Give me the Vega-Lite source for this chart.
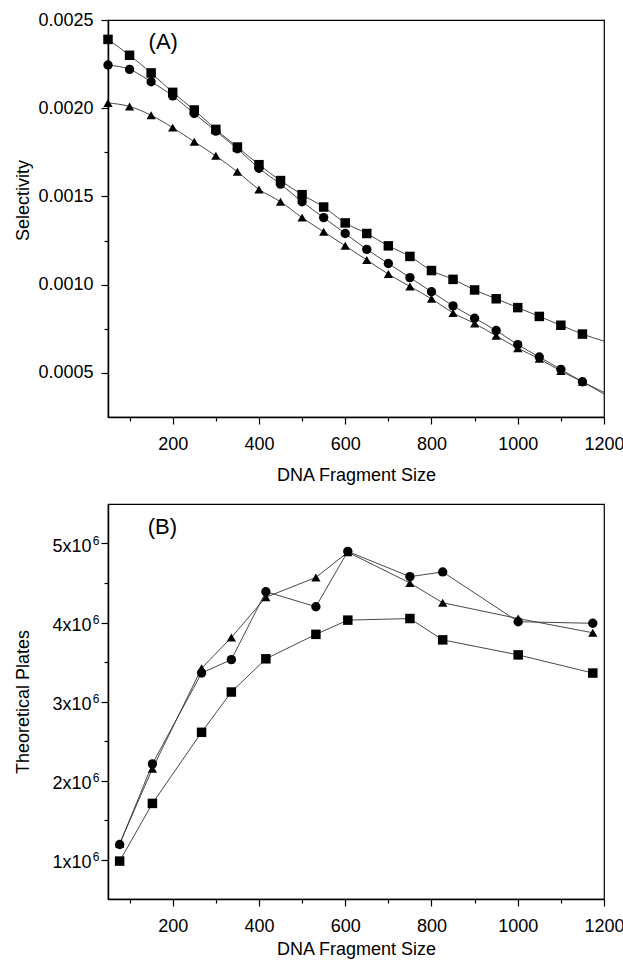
{
  "$schema": "https://vega.github.io/schema/vega-lite/v6.json",
  "padding": {"left": 13, "top": 10, "right": 0, "bottom": 0},
  "config": {
    "font": "Liberation Sans",
    "view": {"stroke": "black", "strokeWidth": 1.2},
    "axis": {"grid": false, "domainColor": "black", "domainWidth": 1.5, "tickColor": "black", "tickWidth": 1.2, "labelColor": "black", "titleColor": "black", "labelFont": "Liberation Sans", "titleFont": "Liberation Sans", "labelFontSize": 18, "titleFontSize": 18, "titleFontWeight": "normal", "labelOverlap": false},
    "concat": {"spacing": 18}
  },
  "datasets": {
    "A": [
      {"size": 50, "sel": 0.00239, "series": "S1", "observed": true},
      {"size": 100, "sel": 0.00230, "series": "S1", "observed": true},
      {"size": 150, "sel": 0.00220, "series": "S1", "observed": true},
      {"size": 200, "sel": 0.00209, "series": "S1", "observed": true},
      {"size": 250, "sel": 0.00199, "series": "S1", "observed": true},
      {"size": 300, "sel": 0.00188, "series": "S1", "observed": true},
      {"size": 350, "sel": 0.00178, "series": "S1", "observed": true},
      {"size": 400, "sel": 0.00168, "series": "S1", "observed": true},
      {"size": 450, "sel": 0.00159, "series": "S1", "observed": true},
      {"size": 500, "sel": 0.00151, "series": "S1", "observed": true},
      {"size": 550, "sel": 0.00144, "series": "S1", "observed": true},
      {"size": 600, "sel": 0.00135, "series": "S1", "observed": true},
      {"size": 650, "sel": 0.00129, "series": "S1", "observed": true},
      {"size": 700, "sel": 0.00122, "series": "S1", "observed": true},
      {"size": 750, "sel": 0.00116, "series": "S1", "observed": true},
      {"size": 800, "sel": 0.00108, "series": "S1", "observed": true},
      {"size": 850, "sel": 0.00103, "series": "S1", "observed": true},
      {"size": 900, "sel": 0.00097, "series": "S1", "observed": true},
      {"size": 950, "sel": 0.00092, "series": "S1", "observed": true},
      {"size": 1000, "sel": 0.00087, "series": "S1", "observed": true},
      {"size": 1050, "sel": 0.00082, "series": "S1", "observed": true},
      {"size": 1100, "sel": 0.00077, "series": "S1", "observed": true},
      {"size": 1150, "sel": 0.00072, "series": "S1", "observed": true},
      {"size": 1200, "sel": 0.00068, "series": "S1", "observed": false},
      {"size": 50, "sel": 0.002245, "series": "S2", "observed": true},
      {"size": 100, "sel": 0.00222, "series": "S2", "observed": true},
      {"size": 150, "sel": 0.00215, "series": "S2", "observed": true},
      {"size": 200, "sel": 0.00207, "series": "S2", "observed": true},
      {"size": 250, "sel": 0.00197, "series": "S2", "observed": true},
      {"size": 300, "sel": 0.00187, "series": "S2", "observed": true},
      {"size": 350, "sel": 0.00177, "series": "S2", "observed": true},
      {"size": 400, "sel": 0.00166, "series": "S2", "observed": true},
      {"size": 450, "sel": 0.00157, "series": "S2", "observed": true},
      {"size": 500, "sel": 0.00147, "series": "S2", "observed": true},
      {"size": 550, "sel": 0.00138, "series": "S2", "observed": true},
      {"size": 600, "sel": 0.00129, "series": "S2", "observed": true},
      {"size": 650, "sel": 0.00120, "series": "S2", "observed": true},
      {"size": 700, "sel": 0.00112, "series": "S2", "observed": true},
      {"size": 750, "sel": 0.00104, "series": "S2", "observed": true},
      {"size": 800, "sel": 0.00096, "series": "S2", "observed": true},
      {"size": 850, "sel": 0.00088, "series": "S2", "observed": true},
      {"size": 900, "sel": 0.00081, "series": "S2", "observed": true},
      {"size": 950, "sel": 0.00074, "series": "S2", "observed": true},
      {"size": 1000, "sel": 0.00066, "series": "S2", "observed": true},
      {"size": 1050, "sel": 0.00059, "series": "S2", "observed": true},
      {"size": 1100, "sel": 0.00052, "series": "S2", "observed": true},
      {"size": 1150, "sel": 0.00045, "series": "S2", "observed": true},
      {"size": 1200, "sel": 0.00039, "series": "S2", "observed": false},
      {"size": 50, "sel": 0.00203, "series": "S3", "observed": true},
      {"size": 100, "sel": 0.00201, "series": "S3", "observed": true},
      {"size": 150, "sel": 0.00196, "series": "S3", "observed": true},
      {"size": 200, "sel": 0.00189, "series": "S3", "observed": true},
      {"size": 250, "sel": 0.00181, "series": "S3", "observed": true},
      {"size": 300, "sel": 0.00173, "series": "S3", "observed": true},
      {"size": 350, "sel": 0.00164, "series": "S3", "observed": true},
      {"size": 400, "sel": 0.00154, "series": "S3", "observed": true},
      {"size": 450, "sel": 0.00147, "series": "S3", "observed": true},
      {"size": 500, "sel": 0.00138, "series": "S3", "observed": true},
      {"size": 550, "sel": 0.00130, "series": "S3", "observed": true},
      {"size": 600, "sel": 0.00122, "series": "S3", "observed": true},
      {"size": 650, "sel": 0.00114, "series": "S3", "observed": true},
      {"size": 700, "sel": 0.00106, "series": "S3", "observed": true},
      {"size": 750, "sel": 0.00099, "series": "S3", "observed": true},
      {"size": 800, "sel": 0.00092, "series": "S3", "observed": true},
      {"size": 850, "sel": 0.00084, "series": "S3", "observed": true},
      {"size": 900, "sel": 0.00078, "series": "S3", "observed": true},
      {"size": 950, "sel": 0.00071, "series": "S3", "observed": true},
      {"size": 1000, "sel": 0.00064, "series": "S3", "observed": true},
      {"size": 1050, "sel": 0.00058, "series": "S3", "observed": true},
      {"size": 1100, "sel": 0.00051, "series": "S3", "observed": true},
      {"size": 1150, "sel": 0.00045, "series": "S3", "observed": true},
      {"size": 1200, "sel": 0.00038, "series": "S3", "observed": false}
    ],
    "B": [
      {"size": 77, "plates": 980000, "series": "S1"},
      {"size": 153, "plates": 1710000, "series": "S1"},
      {"size": 267, "plates": 2610000, "series": "S1"},
      {"size": 336, "plates": 3120000, "series": "S1"},
      {"size": 416, "plates": 3540000, "series": "S1"},
      {"size": 532, "plates": 3850000, "series": "S1"},
      {"size": 606, "plates": 4030000, "series": "S1"},
      {"size": 750, "plates": 4050000, "series": "S1"},
      {"size": 826, "plates": 3780000, "series": "S1"},
      {"size": 1001, "plates": 3590000, "series": "S1"},
      {"size": 1174, "plates": 3360000, "series": "S1"},
      {"size": 77, "plates": 1190000, "series": "S2"},
      {"size": 153, "plates": 2210000, "series": "S2"},
      {"size": 267, "plates": 3360000, "series": "S2"},
      {"size": 336, "plates": 3530000, "series": "S2"},
      {"size": 416, "plates": 4390000, "series": "S2"},
      {"size": 532, "plates": 4200000, "series": "S2"},
      {"size": 606, "plates": 4900000, "series": "S2"},
      {"size": 750, "plates": 4580000, "series": "S2"},
      {"size": 826, "plates": 4640000, "series": "S2"},
      {"size": 1001, "plates": 4010000, "series": "S2"},
      {"size": 1174, "plates": 3990000, "series": "S2"},
      {"size": 77, "plates": 1200000, "series": "S3"},
      {"size": 153, "plates": 2150000, "series": "S3"},
      {"size": 267, "plates": 3420000, "series": "S3"},
      {"size": 336, "plates": 3810000, "series": "S3"},
      {"size": 416, "plates": 4320000, "series": "S3"},
      {"size": 532, "plates": 4570000, "series": "S3"},
      {"size": 606, "plates": 4890000, "series": "S3"},
      {"size": 750, "plates": 4500000, "series": "S3"},
      {"size": 826, "plates": 4250000, "series": "S3"},
      {"size": 1001, "plates": 4050000, "series": "S3"},
      {"size": 1174, "plates": 3870000, "series": "S3"}
    ],
    "Bexp": [
      {"plates": 1000000, "exp": "6"},
      {"plates": 2000000, "exp": "6"},
      {"plates": 3000000, "exp": "6"},
      {"plates": 4000000, "exp": "6"},
      {"plates": 5000000, "exp": "6"}
    ]
  },
  "vconcat": [
    {
      "width": 496,
      "height": 397,
      "encoding": {
        "x": {"field": "size", "type": "quantitative",
          "scale": {"domain": [50, 1200], "nice": false, "zero": false},
          "axis": {"title": "DNA Fragment Size", "values": [100, 200, 300, 400, 500, 600, 700, 800, 900, 1000, 1100, 1200], "format": "d",
            "labelExpr": "datum.value % 200 === 0 ? datum.label : ''",
            "tickSize": {"condition": {"test": "datum.value % 200 === 0", "value": 7}, "value": 4},
            "labelPadding": 11, "labelFlush": false, "titleY": 63, "titleBaseline": "alphabetic"}},
        "y": {"field": "sel", "type": "quantitative",
          "scale": {"domain": [0.00025, 0.0025], "nice": false, "zero": false},
          "axis": {"title": "Selectivity", "values": [0.0005, 0.00075, 0.001, 0.00125, 0.0015, 0.00175, 0.002, 0.00225, 0.0025], "format": ".4f",
            "labelExpr": "round(datum.value * 4000) % 2 === 0 ? datum.label : ''",
            "tickSize": {"condition": {"test": "round(datum.value * 4000) % 2 === 0", "value": 7}, "value": 4},
            "labelPadding": 8, "titleX": -85, "titleY": 180, "titleBaseline": "middle"}}
      },
      "layer": [
        {"data": {"name": "A"},
          "mark": {"type": "line", "interpolate": "monotone", "color": "#333333", "strokeWidth": 0.9},
          "encoding": {"detail": {"field": "series"}}},
        {"data": {"name": "A"},
          "transform": [{"filter": "datum.observed"}],
          "mark": {"type": "point", "filled": true, "color": "black", "opacity": 1},
          "encoding": {
            "shape": {"field": "series", "scale": {"domain": ["S1", "S2", "S3"], "range": ["square", "circle", "triangle-up"]}, "legend": null},
            "size": {"field": "series", "scale": {"domain": ["S1", "S2", "S3"], "range": [90, 85, 110]}, "legend": null}}},
        {"data": {"values": [{"label": "(A)", "size": 178, "sel": 0.002333}]},
          "mark": {"type": "text", "fontSize": 22, "align": "center", "baseline": "alphabetic", "font": "Liberation Sans", "color": "black"},
          "encoding": {"text": {"field": "label"}}}
      ]
    },
    {
      "width": 496,
      "height": 395,
      "layer": [
        {"data": {"name": "B"},
          "mark": {"type": "line", "color": "#333333", "strokeWidth": 0.9},
          "encoding": {
            "x": {"field": "size", "type": "quantitative",
              "scale": {"domain": [50, 1200], "nice": false, "zero": false},
              "axis": {"title": "DNA Fragment Size", "values": [100, 200, 300, 400, 500, 600, 700, 800, 900, 1000, 1100, 1200], "format": "d",
                "labelExpr": "datum.value % 200 === 0 ? datum.label : ''",
                "tickSize": {"condition": {"test": "datum.value % 200 === 0", "value": 7}, "value": 4},
                "labelPadding": 11, "labelFlush": false, "titleY": 55, "titleBaseline": "alphabetic"}},
            "y": {"field": "plates", "type": "quantitative",
              "scale": {"domain": [500000, 5500000], "nice": false, "zero": false},
              "axis": {"title": "Theoretical Plates", "values": [1000000, 1500000, 2000000, 2500000, 3000000, 3500000, 4000000, 4500000, 5000000],
                "labelExpr": "round(datum.value / 500000) % 2 === 0 ? format(datum.value / 1000000, 'd') + 'x10' : ''",
                "tickSize": {"condition": {"test": "round(datum.value / 500000) % 2 === 0", "value": 7}, "value": 4},
                "labelPadding": 10, "labelOffset": 3, "titleX": -85, "titleBaseline": "middle"}},
            "detail": {"field": "series"}}},
        {"data": {"name": "B"},
          "mark": {"type": "point", "filled": true, "color": "black", "opacity": 1},
          "encoding": {
            "x": {"field": "size", "type": "quantitative"},
            "y": {"field": "plates", "type": "quantitative"},
            "shape": {"field": "series", "scale": {"domain": ["S1", "S2", "S3"], "range": ["square", "circle", "triangle-up"]}, "legend": null},
            "size": {"field": "series", "scale": {"domain": ["S1", "S2", "S3"], "range": [90, 85, 110]}, "legend": null}}},
        {"data": {"name": "Bexp"},
          "mark": {"type": "text", "fontSize": 12, "align": "center", "baseline": "middle", "dx": -12, "dy": -3, "font": "Liberation Sans", "color": "black"},
          "encoding": {
            "x": {"datum": 50, "type": "quantitative"},
            "y": {"field": "plates", "type": "quantitative"},
            "text": {"field": "exp"}}},
        {"data": {"values": [{"label": "(B)", "size": 176, "plates": 5126000}]},
          "mark": {"type": "text", "fontSize": 22, "align": "center", "baseline": "alphabetic", "font": "Liberation Sans", "color": "black"},
          "encoding": {
            "x": {"field": "size", "type": "quantitative"},
            "y": {"field": "plates", "type": "quantitative"},
            "text": {"field": "label"}}}
      ]
    }
  ]
}
